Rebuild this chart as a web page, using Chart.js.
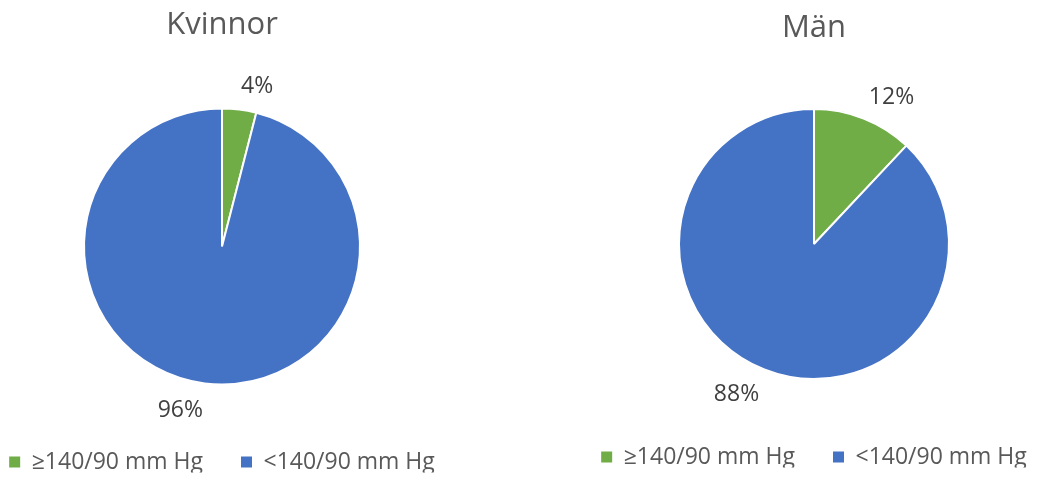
<!DOCTYPE html>
<html>
<head>
<meta charset="utf-8">
<script src="https://cdn.jsdelivr.net/npm/chart.js@4"></script>
<style>
  html, body { margin: 0; padding: 0; background: #fff; overflow: hidden; width: 1037px; height: 478px; }
  .pie { position: absolute; top: 0; width: 520px; height: 478px; }
  #left  { left: -38px; }
  #right { left: 554px; }
</style>
</head>
<body>
<div class="pie" id="left"><canvas id="pc-kvinnor"></canvas></div>
<div class="pie" id="right"><canvas id="pc-man"></canvas></div>
<script>
'use strict';

// Share of people with blood pressure at or above 140/90, women vs men.
const CATEGORIES   = ['≥140/90 mm Hg', '<140/90 mm Hg'];
const KVINNOR_PCT  = [4, 96];
const MAN_PCT      = [12, 88];
const COLORS       = ['#70ad47', '#4472c4'];

const FONT = '"Open Sans", "DejaVu Sans", sans-serif';

// ── Outside-end percent labels ───────────────────────────────────────────
const pctLabels = {
  id: 'pctLabels',
  afterDatasetsDraw(chart) {
    const ctx = chart.ctx;
    const meta = chart.getDatasetMeta(0);
    const values = chart.data.datasets[0].data;
    const total = values.reduce((a, b) => a + b, 0);
    ctx.save();
    ctx.font = '23px ' + FONT;
    ctx.fillStyle = '#404040';
    ctx.textBaseline = 'middle';
    meta.data.forEach((arc, i) => {
      const {x, y, startAngle, endAngle, outerRadius} = arc.getProps(['x','y','startAngle','endAngle','outerRadius'], true);
      const mid = (startAngle + endAngle) / 2;
      const dx = Math.cos(mid), dy = Math.sin(mid);
      const gap = 14;
      const ax = x + dx * (outerRadius + gap);
      const ay = y + dy * (outerRadius + gap) + dy * 11 + 2;
      ctx.textAlign = dx >= 0 ? 'left' : 'right';
      ctx.fillText(Math.round(values[i] / total * 100) + '%', ax, ay);
    });
    ctx.restore();
  },
};

function makePie(canvasId, title, values, radius, pad) {
  const ctx = document.getElementById(canvasId).getContext('2d');
  return new Chart(ctx, {
    type: 'pie',
    data: {
      labels: CATEGORIES,
      datasets: [{
        data: values,
        backgroundColor: COLORS,
        borderColor: '#ffffff',
        borderWidth: 2,
        radius: radius,
      }],
    },
    plugins: [pctLabels],
    options: {
      responsive: true,
      maintainAspectRatio: false,
      animation: false,
      layout: {padding: {top: 0, bottom: pad.bottom, left: 0, right: 0}},
      plugins: {
        title: {
          display: true,
          text: title,
          color: '#595959',
          font: {family: FONT, size: 31, weight: 'normal', lineHeight: 1.2},
          padding: {top: pad.titleTop, bottom: pad.titleBottom},
        },
        legend: {
          position: 'bottom',
          maxHeight: 60,
          labels: {
            color: '#595959',
            boxWidth: 11, boxHeight: 11, padding: 38,
            font: {family: FONT, size: 23},
            generateLabels: chart => Chart.overrides.pie.plugins.legend.labels
              .generateLabels(chart).map(item => ({...item, lineWidth: 0})),
          },
        },
        tooltip: {enabled: false},
      },
    },
  });
}

makePie('pc-kvinnor', 'Kvinnor', KVINNOR_PCT, 138,
        {titleTop: 7, titleBottom: 36.3, bottom: 5.5});
makePie('pc-man', 'Män', MAN_PCT, 135,
        {titleTop: 10, titleBottom: 33.3, bottom: 10.5});
</script>
</body>
</html>
